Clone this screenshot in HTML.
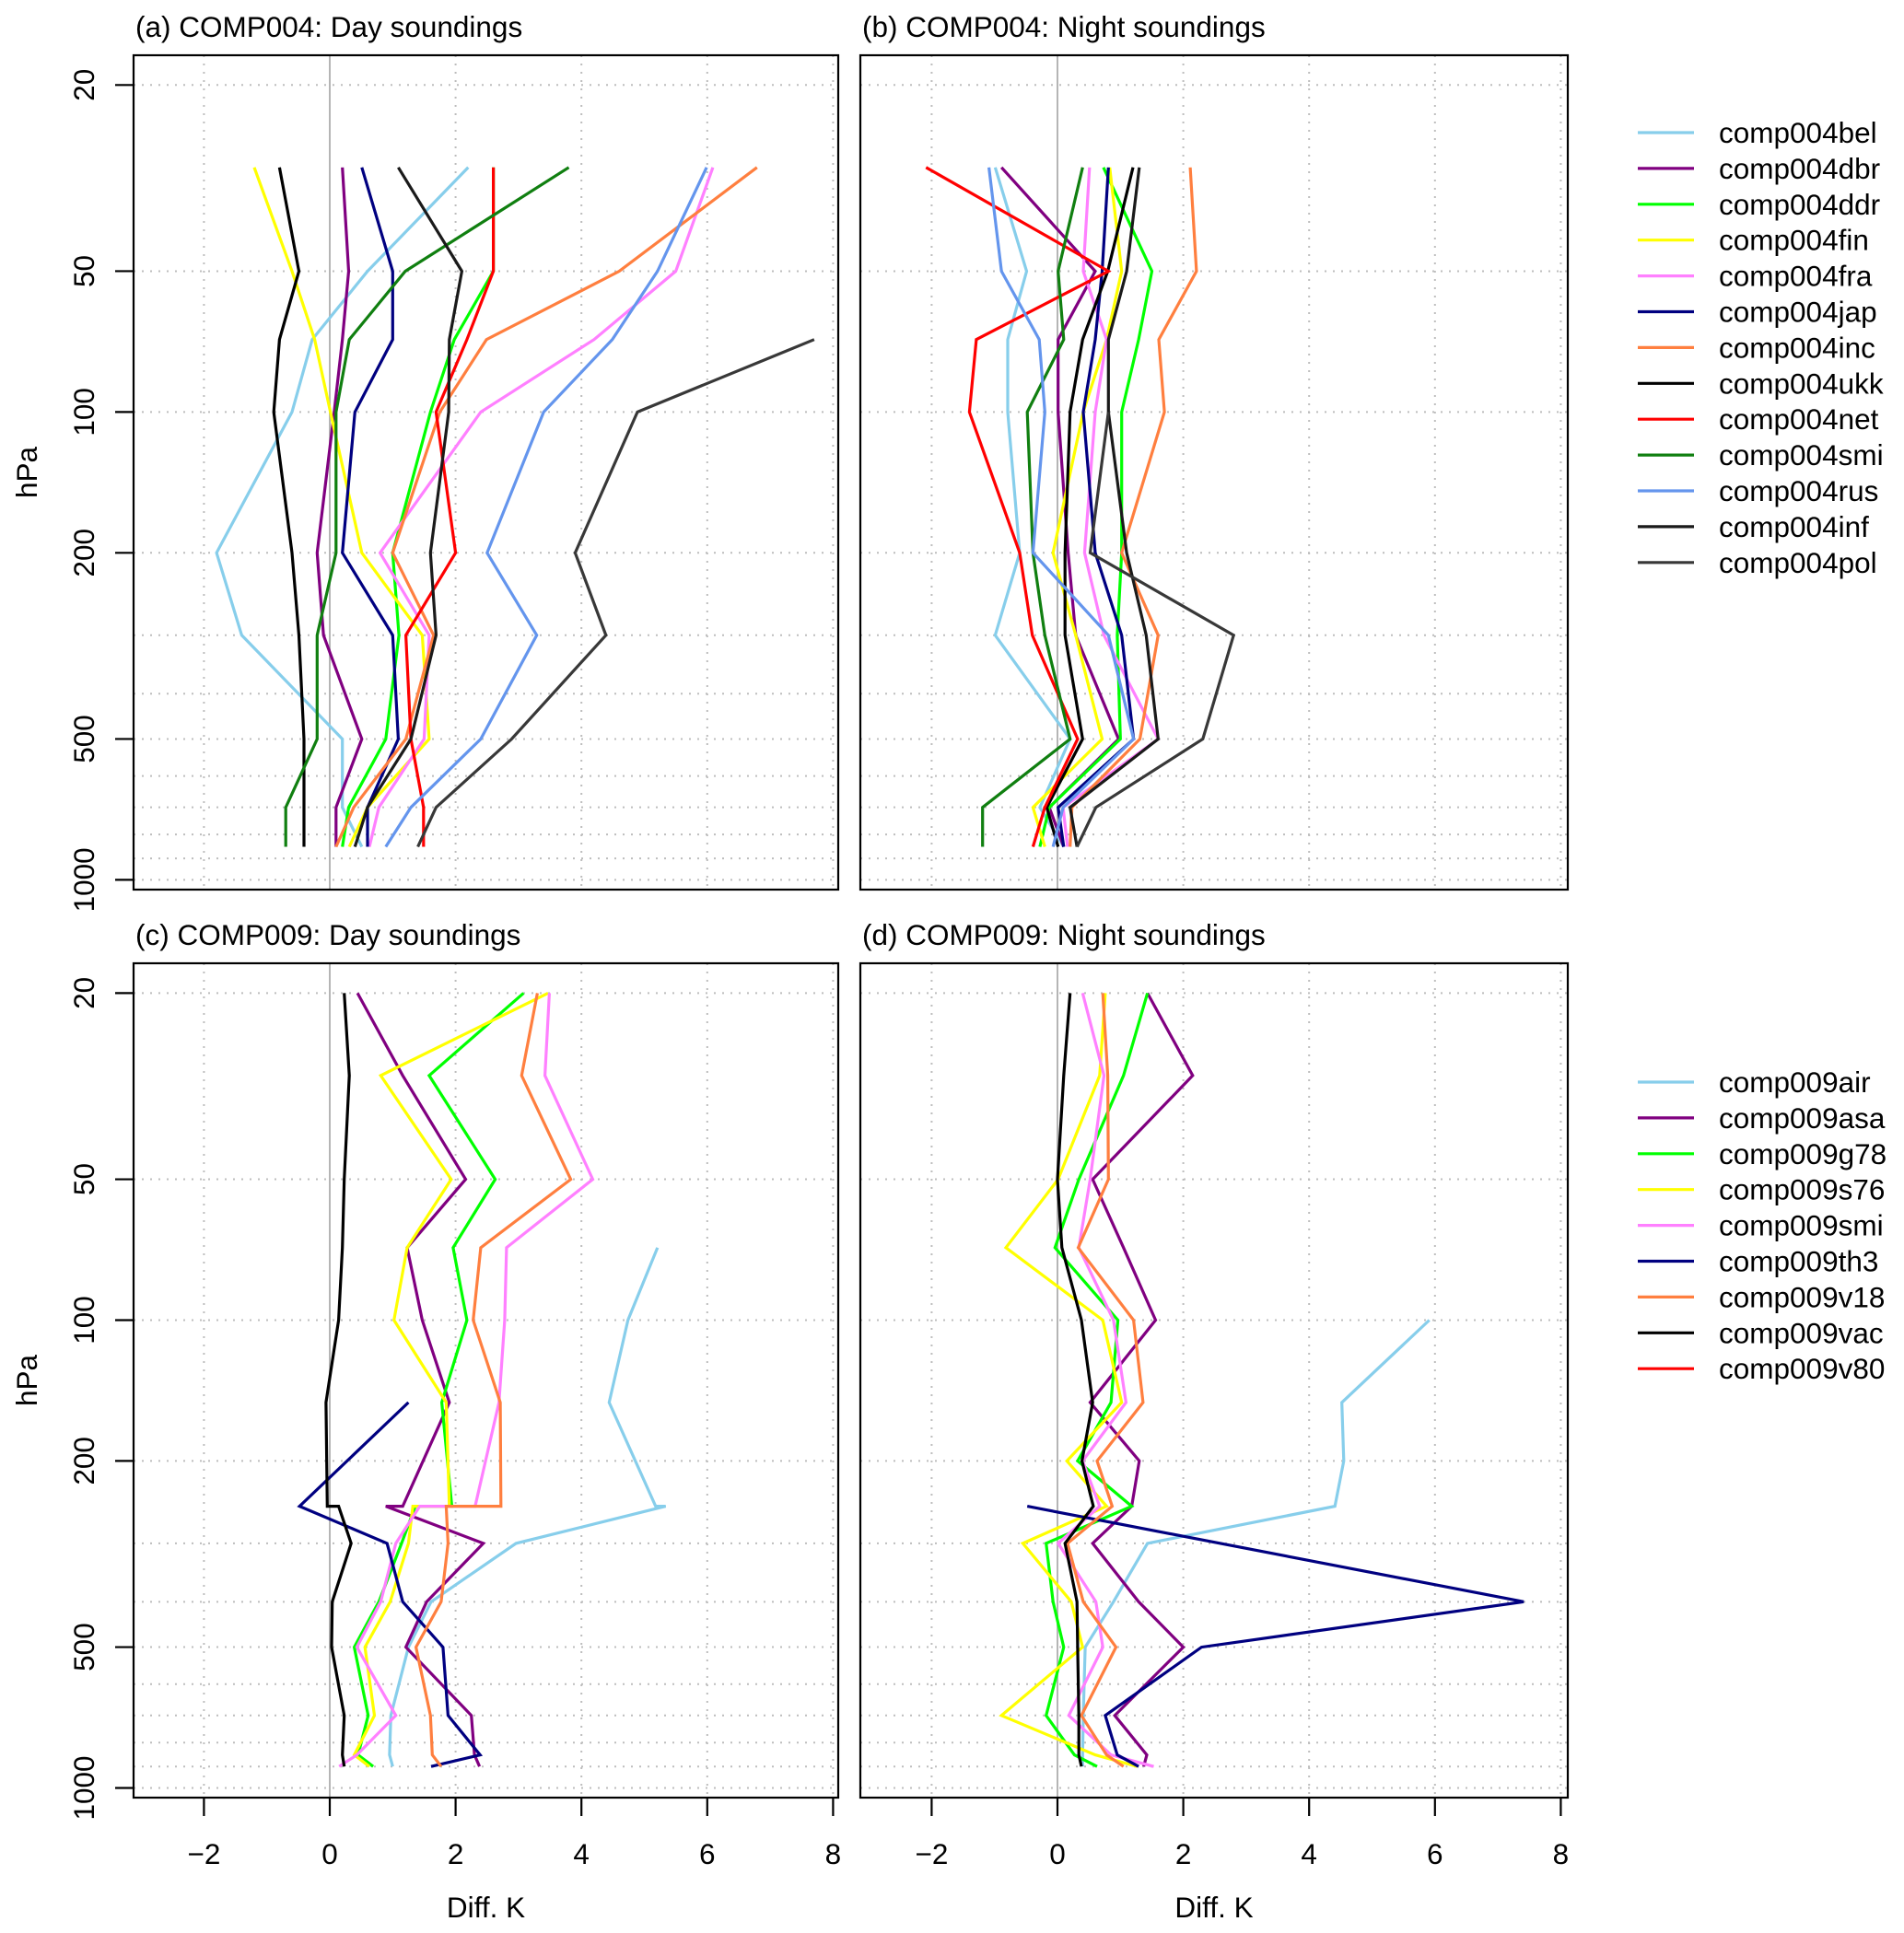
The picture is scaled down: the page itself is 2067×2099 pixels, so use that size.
<!DOCTYPE html>
<html><head><meta charset="utf-8"><style>
html,body{margin:0;padding:0;background:#fff;}
svg{display:block;font-family:"Liberation Sans",Arial,sans-serif;}
</style></head><body>
<svg id="chart" width="2067" height="2099" viewBox="0 0 2067 2099" xmlns="http://www.w3.org/2000/svg">
<rect x="0" y="0" width="2067" height="2099" fill="#fff"/>
</svg>
<script>
// ---------- data ----------
const levelsTop = [30,50,70,100,200,300,500,700,850];
const levelsC = [20,30,50,70,100,150,250,250,300,400,500,700,850,900];
const levelsD = [20,30,50,70,100,150,200,250,300,400,500,700,850,900];

const namesTop = ["comp004bel","comp004dbr","comp004ddr","comp004fin","comp004fra","comp004jap","comp004inc","comp004ukk","comp004net","comp004smi","comp004rus","comp004inf","comp004pol"];
const namesBot = ["comp009air","comp009asa","comp009g78","comp009s76","comp009smi","comp009th3","comp009v18","comp009vac","comp009v80"];
const colorsTop = ["#87CEEB","#800080","#00FF00","#FFFF00","#FF80FF","#000080","#FF7F3F","#000000","#FF0000","#107F10","#6495ED","#1A1A1A","#383838"];
const colorsBot = ["#87CEEB","#800080","#00FF00","#FFFF00","#FF80FF","#000080","#FF7F3F","#000000","#FF0000"];

// Panel (a) COMP004 day
const a_bel = [2.2,0.6,-0.28,-0.6,-1.8,-1.4,0.2,0.2,0.51];
const a_dbr = [0.2,0.3,0.2,0.07,-0.2,-0.1,0.51,0.1,0.1];
const a_ddr = [2.6,2.6,1.98,1.6,1.0,1.1,0.89,0.3,0.2];
const a_fin = [-1.2,-0.6,-0.24,0.01,0.51,1.47,1.58,0.6,0.31];
const a_fra = [6.09,5.5,4.2,2.4,0.8,1.58,1.5,0.78,0.63];
const a_jap = [0.51,1.0,1.0,0.4,0.2,1.0,1.09,0.6,0.6];
const a_inc = [6.79,4.6,2.49,1.75,1.0,1.65,1.21,0.38,0.1];
const a_ukk = [-0.8,-0.49,-0.8,-0.89,-0.6,-0.49,-0.41,-0.41,-0.41];
const a_net = [2.6,2.6,2.18,1.69,2.0,1.21,1.29,1.49,1.49];
const a_smi = [3.8,1.2,0.31,0.1,0.1,-0.2,-0.2,-0.7,-0.7];
const a_rus = [5.99,5.21,4.49,3.4,2.5,3.29,2.4,1.29,0.89];
const a_inf = [1.09,2.1,1.9,1.89,1.6,1.69,1.29,0.6,0.4];
const a_pol = [null,null,7.7,4.89,3.9,4.39,2.89,1.69,1.4];

// Panel (b) COMP004 night
const b_bel = [-0.99,-0.49,-0.79,-0.79,-0.6,-0.99,0.2,-0.28,0.1];
const b_dbr = [-0.89,0.6,0.01,0.01,0.17,0.29,0.97,-0.13,0.1];
const b_ddr = [0.73,1.5,1.29,1.02,1.02,0.95,1.0,-0.13,-0.28];
const b_fin = [0.83,1.02,0.78,0.41,-0.07,0.29,0.71,-0.39,-0.2];
const b_fra = [0.51,0.41,0.78,0.6,0.43,0.74,1.6,0.09,0.16];
const b_jap = [0.81,0.71,0.6,0.41,0.6,1.02,1.21,0.01,0.1];
const b_inc = [2.11,2.21,1.61,1.7,1.02,1.6,1.31,0.23,0.2];
const b_ukk = [1.2,0.8,0.4,0.2,0.12,0.12,0.4,-0.17,0.01];
const b_net = [-2.09,0.81,-1.29,-1.4,-0.6,-0.4,0.32,-0.2,-0.39];
const b_smi = [0.4,0.01,0.1,-0.48,-0.39,-0.2,0.2,-1.19,-1.19];
const b_rus = [-1.09,-0.89,-0.29,-0.2,-0.39,0.81,1.21,0.09,-0.07];
const b_inf = [1.3,1.1,0.81,0.81,1.1,1.41,1.6,0.2,0.31];
const b_pol = [null,null,null,0.81,0.52,2.8,2.31,0.61,0.31];

// Panel (c) COMP009 day
const c_air = [null,null,null,5.21,4.74,4.44,5.18,5.34,2.96,1.61,1.25,0.97,0.95,1.0];
const c_asa = [0.44,1.16,2.16,1.23,1.47,1.9,1.16,0.89,2.44,1.54,1.21,2.25,2.3,2.38];
const c_g78 = [3.08,1.58,2.63,1.96,2.18,1.78,1.94,1.36,1.14,0.78,0.39,0.61,0.45,0.69];
const c_s76 = [3.47,0.81,1.93,1.23,1.02,1.85,1.9,1.32,1.25,0.96,0.56,0.71,0.39,0.63];
const c_smi = [3.49,3.42,4.18,2.81,2.78,2.69,2.31,1.43,1.05,0.81,0.43,1.05,0.43,0.15];
const c_th3 = [null,null,null,null,null,1.25,-0.48,-0.48,0.91,1.16,1.8,1.88,2.39,1.61];
const c_v18 = [3.3,3.05,3.83,2.4,2.28,2.71,2.72,1.85,1.88,1.77,1.37,1.6,1.63,1.77];
const c_vac = [0.23,0.31,0.23,0.2,0.14,-0.06,-0.04,0.14,0.34,0.04,0.03,0.23,0.2,0.23];
const c_v80 = [null,null,null,null,null,null,null,null,null,null,null,null,null,null];

// Panel (d) COMP009 night
const d_air = [null,null,null,null,5.91,4.52,4.55,4.41,1.43,0.89,0.44,0.41,0.4,0.4];
const d_asa = [1.43,2.15,0.56,1.05,1.56,0.52,1.3,1.18,0.56,1.29,2.0,0.91,1.42,1.37];
const d_g78 = [1.43,1.05,0.34,-0.04,0.96,0.85,0.32,1.18,-0.18,-0.07,0.1,-0.18,0.27,0.63];
const d_s76 = [0.76,0.67,0.01,-0.82,0.72,1.02,0.15,0.78,-0.55,0.22,0.4,-0.89,0.6,1.27];
const d_smi = [0.4,0.74,0.52,0.34,0.89,1.09,0.4,0.67,0.01,0.61,0.72,0.18,0.85,1.53];
const d_th3 = [null,null,null,null,null,null,null,-0.48,null,7.41,2.29,0.76,0.95,1.29];
const d_v18 = [0.72,0.8,0.81,0.33,1.21,1.36,0.63,0.87,0.16,0.41,0.93,0.38,0.78,1.05];
const d_vac = [0.2,0.1,0.0,0.07,0.38,0.56,0.39,0.57,0.12,0.31,0.32,0.34,0.34,0.38];
const d_v80 = [null,null,null,null,null,null,null,null,null,null,null,null,null,null];

const xTicks = [-2,0,2,4,6,8];
const xGrid = [-2,2,4,6,8];
const yTicks = [20,50,100,200,500,1000];
const yGrid = [20,50,100,200,300,400,500,600,700,800,900,1000];

// ---------- drawing ----------
const NS = "http://www.w3.org/2000/svg";
const svg = document.getElementById("chart");
function mk(tag, attrs, parent){
  const e = document.createElementNS(NS, tag);
  for (const k in attrs) e.setAttribute(k, attrs[k]);
  (parent||svg).appendChild(e);
  return e;
}
const UNIT = 68.3, DEC = 508;
function makePanel(id, title, left, right, top, bottom, x0, y20, showX, showY, levels, series, names, colors){
  const g = mk("g", {});
  
  
  const xs = v => x0 + v*UNIT;
  const ys = p => y20 + (Math.log10(p) - Math.log10(20))*DEC;
  const grid = mk("g", {}, g);
  
  
  xGrid.forEach(v => {
    const l = mk("line", {x1:xs(v), x2:xs(v), y1:top, y2:bottom, stroke:"#bdbdbd", "stroke-width":2, "stroke-dasharray":"2 7"}, grid);
    
    
  });
  yGrid.forEach(p => {
    const l = mk("line", {x1:left, x2:right, y1:ys(p), y2:ys(p), stroke:"#bdbdbd", "stroke-width":2, "stroke-dasharray":"2 7"}, grid);
    
    
  });
  const zl = mk("line", {x1:xs(0), x2:xs(0), y1:top, y2:bottom, stroke:"#b5b5b5", "stroke-width":2}, g);
  
  
  series.forEach((vals, i) => {
    const pts = [];
    vals.forEach((v, j) => { if (v !== null) pts.push(xs(v).toFixed(1) + "," + ys(levels[j]).toFixed(1)); });
    if (pts.length < 2) return;
    const pl = mk("polyline", {points: pts.join(" "), fill:"none", stroke:colors[i], "stroke-width":3.2, "stroke-linejoin":"miter", "stroke-miterlimit":3}, g);
    
    
  });
  const box = mk("rect", {x:left, y:top, width:right-left, height:bottom-top, fill:"none", stroke:"#000", "stroke-width":2.2}, g);
  
  
  const t = mk("text", {x:left+2, y:top-20, "font-size":31.5, fill:"#000"}, g);
  t.textContent = title;
  
  
  if (showX){
    xTicks.forEach(v => {
      mk("line", {x1:xs(v), x2:xs(v), y1:bottom, y2:bottom+20, stroke:"#000", "stroke-width":2.2}, g);
      const tl = mk("text", {x:xs(v), y:bottom+72, "font-size":31.5, "text-anchor":"middle"}, g);
      tl.textContent = v < 0 ? "\u2212" + Math.abs(v) : String(v);
      
      
    });
    const xt = mk("text", {x:(left+right)/2, y:bottom+130, "font-size":31.5, "text-anchor":"middle"}, g);
    xt.textContent = "Diff. K";
    
    
  }
  if (showY){
    yTicks.forEach(p => {
      mk("line", {x1:left-20, x2:left, y1:ys(p), y2:ys(p), stroke:"#000", "stroke-width":2.2}, g);
      const tl = mk("text", {x:0, y:0, "font-size":31.5, "text-anchor":"middle", transform:"translate(102," + ys(p) + ") rotate(-90)"}, g);
      tl.textContent = String(p);
      
      
    });
    const yt = mk("text", {x:0, y:0, "font-size":31.5, "text-anchor":"middle", transform:"translate(40," + ((top+bottom)/2) + ") rotate(-90)"}, g);
    yt.textContent = "hPa";
    
    
  }
}
function makeLegend(id, names, colors, y0){
  const g = mk("g", {});
  
  
  names.forEach((n, i) => {
    const y = y0 + i*38.9;
    const e = mk("g", {}, g);
    
    
    mk("line", {x1:1778, x2:1839, y1:y, y2:y, stroke:colors[i], "stroke-width":3.2}, e);
    const t = mk("text", {x:1866, y:y+11, "font-size":31.5}, e);
    t.textContent = n;
  });
}
const TOPT = 60, TOPB = 966, BOTT = 1046, BOTB = 1952;
makePanel("a","(a) COMP004: Day soundings",145,910,TOPT,TOPB,358,92.3,false,true,levelsTop,
  [a_bel,a_dbr,a_ddr,a_fin,a_fra,a_jap,a_inc,a_ukk,a_net,a_smi,a_rus,a_inf,a_pol],namesTop,colorsTop);
makePanel("b","(b) COMP004: Night soundings",934,1702,TOPT,TOPB,1148,92.3,false,false,levelsTop,
  [b_bel,b_dbr,b_ddr,b_fin,b_fra,b_jap,b_inc,b_ukk,b_net,b_smi,b_rus,b_inf,b_pol],namesTop,colorsTop);
makePanel("c","(c) COMP009: Day soundings",145,910,BOTT,BOTB,358,1078.4,true,true,levelsC,
  [c_air,c_asa,c_g78,c_s76,c_smi,c_th3,c_v18,c_vac,c_v80],namesBot,colorsBot);
makePanel("d","(d) COMP009: Night soundings",934,1702,BOTT,BOTB,1148,1078.4,true,false,levelsD,
  [d_air,d_asa,d_g78,d_s76,d_smi,d_th3,d_v18,d_vac,d_v80],namesBot,colorsBot);
makeLegend("comp004", namesTop, colorsTop, 144);
makeLegend("comp009", namesBot, colorsBot, 1175);
</script>
</body></html>
